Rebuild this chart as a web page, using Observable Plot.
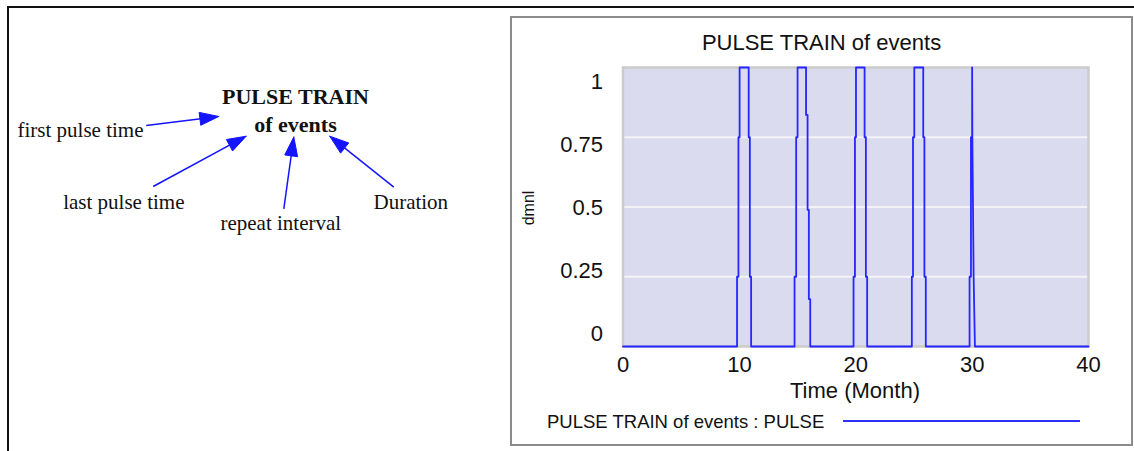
<!DOCTYPE html>
<html>
<head>
<meta charset="utf-8">
<script src="https://cdn.jsdelivr.net/npm/d3@7"></script>
<script src="https://cdn.jsdelivr.net/npm/@observablehq/plot@0.6"></script>
<style>
html,body{margin:0;padding:0;background:#fff;width:1134px;height:451px;overflow:hidden;}
#page{position:relative;width:1134px;height:451px;font-family:"Liberation Sans",Arial,sans-serif;color:#111;}
.abs{position:absolute;white-space:nowrap;}
#outer{left:7px;top:6px;width:1200px;height:500px;border-left:2px solid #111;border-top:2px solid #111;}
#box{left:510px;top:16px;width:619px;height:426px;border:2px solid #8c8c8c;}
#title{left:512px;width:619px;top:32px;text-align:center;font-size:22px;line-height:22px;}
#xlabel{left:622px;width:466px;top:379.5px;text-align:center;font-size:22px;line-height:22px;}
#ylabel{left:499px;top:200px;width:60px;text-align:center;font-size:16px;line-height:16px;transform:rotate(-90deg);}
#legtext{left:547px;top:412px;font-size:18.5px;line-height:19px;}
#legline{left:843px;top:420px;width:237px;height:2px;background:#3030ff;}
#chart{left:513px;top:55px;}
#diagram{left:0;top:0;}
</style>
</head>
<body>
<div id="page">
  <div id="outer" class="abs"></div>
  <div id="box" class="abs"></div>
  <div id="diagram" class="abs"></div>
  <div id="title" class="abs"></div>
  <div id="chart" class="abs"></div>
  <div id="xlabel" class="abs"></div>
  <div id="ylabel" class="abs"></div>
  <div id="legtext" class="abs"></div>
  <div id="legline" class="abs"></div>
</div>
<script>
// ---------- DATA ----------
const chartTitle = "PULSE TRAIN of events";
const xAxisLabel = "Time (Month)";
const yAxisLabel = "dmnl";
const legendLabel = "PULSE TRAIN of events : PULSE";

const xTicks = [0, 10, 20, 30, 40];
const yTicks = [0, 0.25, 0.5, 0.75, 1];
const yTickLabels = ["0", "0.25", "0.5", "0.75", "1"];
const gridValues = [0.25, 0.5, 0.75];

// PULSE series (Month, dmnl)
const time = [
  0,
  9.8, 9.8, 9.92, 9.92, 10.02, 10.02, 10.8, 10.8, 10.9, 10.9, 11.01, 11.01,
  14.74, 14.74, 14.88, 14.88, 15.0, 15.0, 15.73, 15.73, 15.86, 15.86, 15.97, 15.97, 16.09, 16.09,
  19.81, 19.81, 19.93, 19.93, 20.02, 20.02, 20.76, 20.76, 20.87, 20.87, 20.98, 20.98,
  24.82, 24.82, 24.92, 24.92, 25.03, 25.03, 25.8, 25.8, 25.9, 25.9, 26.02, 26.02,
  29.78, 29.78, 29.9, 29.9, 30.0, 30.0, 30.02, 30.02, 30.13, 30.13, 30.24, 30.24,
  40
];
const pulse = [
  0,
  0, 0.25, 0.25, 0.75, 0.75, 1, 1, 0.75, 0.75, 0.25, 0.25, 0,
  0, 0.25, 0.25, 0.75, 0.75, 1, 1, 0.83, 0.83, 0.49, 0.49, 0.17, 0.17, 0,
  0, 0.25, 0.25, 0.75, 0.75, 1, 1, 0.75, 0.75, 0.25, 0.25, 0,
  0, 0.25, 0.25, 0.75, 0.75, 1, 1, 0.75, 0.75, 0.25, 0.25, 0,
  0, 0.25, 0.25, 0.75, 0.75, 1, 0.75, 0.75, 0.25, 0.25, 0, 0,
  0
];

// Causal diagram: nodes and links
const nodeNames = ["PULSE TRAIN\nof events", "first pulse time", "last pulse time", "repeat interval", "Duration"];
const linkFrom = ["first pulse time", "last pulse time", "repeat interval", "Duration"];
const linkTo = ["PULSE TRAIN\nof events", "PULSE TRAIN\nof events", "PULSE TRAIN\nof events", "PULSE TRAIN\nof events"];

// ---------- LAYOUT (diagram placement, pixels) ----------
const nodeLayout = {
  "PULSE TRAIN\nof events": {x: 295, y: 108.6, size: 22, weight: "bold"},
  "first pulse time": {x: 80, y: 129.8, size: 21, weight: "normal"},
  "last pulse time": {x: 123.3, y: 201.3, size: 21, weight: "normal"},
  "repeat interval": {x: 280.3, y: 222.8, size: 21, weight: "normal"},
  "Duration": {x: 410.3, y: 201.3, size: 21, weight: "normal"}
};
const linkLayout = {
  "first pulse time": {x1: 145.7, y1: 125, x2: 218.3, y2: 116},
  "last pulse time": {x1: 152.7, y1: 186, x2: 245.7, y2: 135.7},
  "repeat interval": {x1: 283.3, y1: 208.3, x2: 293.3, y2: 136.5},
  "Duration": {x1: 393.3, y1: 186.7, x2: 329.3, y2: 135.7}
};

// ---------- TEXT ----------
document.getElementById("title").textContent = chartTitle;
document.getElementById("xlabel").textContent = xAxisLabel;
document.getElementById("ylabel").textContent = yAxisLabel;
document.getElementById("legtext").textContent = legendLabel;

// ---------- MAIN CHART ----------
const rows = time.map((t, i) => ({t, v: pulse[i]}));
const lineColor = "#2626ff";

const chart = Plot.plot({
  width: 618,
  height: 350,
  marginLeft: 109.5,
  marginRight: 43,
  marginTop: 12,
  marginBottom: 59,
  style: {background: "transparent", fontFamily: "'Liberation Sans', Arial, sans-serif", color: "#111", overflow: "visible"},
  x: {domain: [0, 40], axis: null},
  y: {domain: [0, 1], axis: null},
  marks: [
    Plot.frame({fill: "#dbdbef", stroke: null}),
    Plot.ruleY(gridValues, {stroke: "#f3f3f7", strokeWidth: 2}),
    Plot.frame({stroke: "#cbcbcb", strokeWidth: 2.5}),
    Plot.axisX(xTicks, {tickSize: 0, tickPadding: 9.5, fontSize: 22, label: null, tickFormat: d => String(d)}),
    Plot.text(yTicks, {
      y: d => 0.045 + 0.903 * d,
      text: (d, i) => yTickLabels[i],
      frameAnchor: "left", textAnchor: "end", lineAnchor: "middle",
      dx: -20, fontSize: 22, fill: "#111"
    }),
    Plot.line(rows, {x: "t", y: "v", stroke: lineColor, strokeWidth: 1.8})
  ]
});
document.getElementById("chart").appendChild(chart);

// ---------- DIAGRAM ----------
const nodes = nodeNames.map(n => ({name: n, ...nodeLayout[n]}));
const links = linkFrom.map((f, i) => ({from: f, to: linkTo[i], ...linkLayout[f]}));
const headLen = 19, headHalf = 6.5;
const heads = [];
links.forEach((l, i) => {
  const dx = l.x2 - l.x1, dy = l.y2 - l.y1, len = Math.hypot(dx, dy);
  const ux = dx / len, uy = dy / len, nx = -uy, ny = ux;
  const bx = l.x2 - headLen * ux, by = l.y2 - headLen * uy;
  heads.push({id: i, x: l.x2, y: l.y2});
  heads.push({id: i, x: bx + headHalf * nx, y: by + headHalf * ny});
  heads.push({id: i, x: bx - headHalf * nx, y: by - headHalf * ny});
  heads.push({id: i, x: l.x2, y: l.y2});
});
const arrowColor = "#1414ff";
const serif = "'Liberation Serif', 'Times New Roman', serif";

const diagram = Plot.plot({
  width: 500,
  height: 451,
  margin: 0,
  style: {background: "transparent", overflow: "visible"},
  x: {domain: [0, 500], axis: null},
  y: {domain: [451, 0], axis: null},
  marks: [
    Plot.link(links, {x1: "x1", y1: "y1", x2: d => d.x2 - 10 * (d.x2 - d.x1) / Math.hypot(d.x2 - d.x1, d.y2 - d.y1), y2: d => d.y2 - 10 * (d.y2 - d.y1) / Math.hypot(d.x2 - d.x1, d.y2 - d.y1), stroke: arrowColor, strokeWidth: 1.5}),
    Plot.line(heads, {x: "x", y: "y", z: "id", fill: arrowColor, stroke: arrowColor, strokeWidth: 1, curve: "linear"}),
    Plot.text(nodes.filter(d => d.weight === "bold"), {x: "x", y: "y", text: "name", fontFamily: serif, fontSize: 22, fontWeight: "bold", lineHeight: 1.264, lineAnchor: "middle", fill: "#111"}),
    Plot.text(nodes.filter(d => d.weight !== "bold"), {x: "x", y: "y", text: "name", fontFamily: serif, fontSize: 21, lineAnchor: "middle", fill: "#111"})
  ]
});
document.getElementById("diagram").appendChild(diagram);
</script>
</body>
</html>
